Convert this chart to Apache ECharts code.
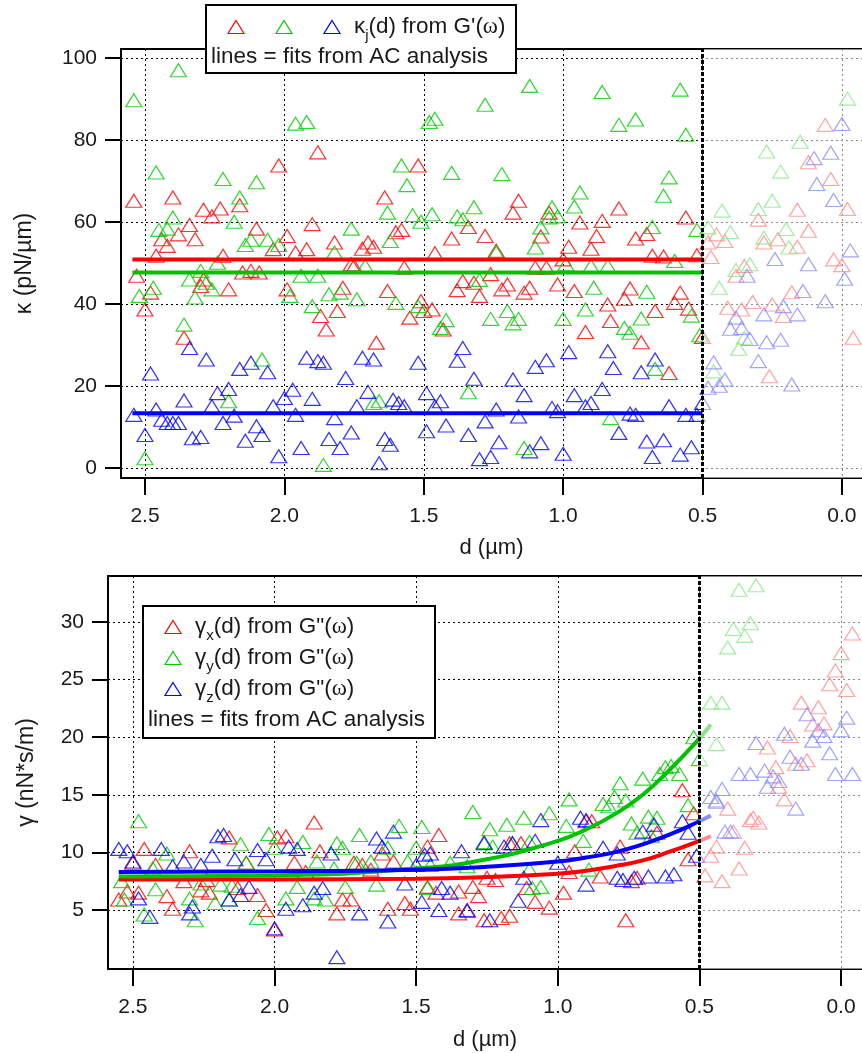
<!DOCTYPE html>
<html>
<head>
<meta charset="utf-8">
<script src="https://cdn.jsdelivr.net/npm/echarts@6/dist/echarts.min.js"></script>
<style>
  html, body { margin: 0; padding: 0; background: #fff; }
  #chart { width: 862px; height: 1053px; }
</style>
</head>
<body>
<div id="chart"></div>
<script>
// axis ticks
var dTicks = [2.5, 2.0, 1.5, 1.0, 0.5, 0.0];
var kappaTicks = [0, 20, 40, 60, 80, 100];
var gammaTicks = [5, 10, 15, 20, 25, 30];
var cutoff = 0.5;

// kappa (top), [d, kappa]
var kappaRed = [
  [2.54,65.2],[2.40,66.0],[2.46,51.8],[2.44,55.8],[2.42,54.2],[2.38,57.0],[2.34,59.3],[2.32,55.8],[2.29,63.0],
  [2.26,61.4],[2.23,63.3],[2.16,64.1],[2.10,58.4],[2.02,73.8],[1.99,56.6],[1.96,52.6],[1.92,53.4],[1.88,77.0],
  [1.90,59.5],[2.04,53.4],[1.82,55.0],[1.72,53.5],[1.70,55.0],[1.68,54.0],[1.64,66.0],[1.60,57.5],[1.58,58.1],
  [1.52,73.8],[2.22,51.8],[2.53,46.9],[2.50,38.7],[2.48,42.8],[2.36,31.8],[2.30,44.4],[2.29,46.0],[2.20,43.6],
  [2.15,47.7],[2.12,48.1],[2.09,47.7],[1.99,43.6],[1.87,37.1],[1.85,33.8],[1.81,38.3],[1.79,44.0],[1.76,49.7],
  [1.75,49.3],[1.67,30.6],[1.63,43.2],[1.55,36.7],[1.57,48.9],[1.51,40.7],[1.50,38.3],
  [1.16,65.2],[1.18,62.3],[0.80,63.3],[0.56,61.1],[0.94,59.9],[0.86,60.3],[1.34,58.8],[1.40,56.0],[1.28,56.6],
  [1.08,56.5],[1.05,62.3],[0.88,56.6],[0.90,53.5],[0.98,54.0],[0.74,56.0],[0.70,57.1],[1.24,53.0],[1.46,52.4],
  [1.38,43.4],[1.36,45.6],[1.32,45.2],[1.30,42.0],[1.26,47.3],[1.22,43.6],[1.20,44.8],[1.14,42.8],[1.12,44.0],
  [1.10,48.9],[1.06,48.9],[1.02,44.8],[0.96,43.2],[0.92,33.2],[0.84,39.9],[0.83,35.9],[0.78,41.3],[0.76,43.8],
  [0.72,30.7],[0.67,38.3],[0.60,40.3],[0.58,42.8],[0.55,38.9],[0.62,23.2],[0.50,32.0],[1.43,33.8],[1.47,38.7],
  [0.68,51.8],[0.64,51.6],[0.52,51.9],[1.00,50.9],
  [0.06,83.7],[0.12,74.6],[0.04,70.5],[0.16,63.0],[-0.02,63.2],[0.30,60.6],[0.12,57.9],[0.23,55.8],[0.45,57.0],
  [0.42,55.4],[0.28,55.0],[0.16,54.0],[0.47,51.5],[0.48,55.0],[0.38,46.9],[0.35,49.3],[0.03,50.9],[0.00,49.5],
  [0.41,39.1],[0.36,38.7],[0.32,40.5],[0.25,39.9],[0.21,37.1],[0.18,42.9],[-0.04,31.8],[0.26,22.4]
];
var kappaGreen = [
  [2.54,89.7],[2.38,97.0],[2.46,72.1],[2.22,70.5],[2.10,69.7],[1.96,84.0],[1.92,84.4],[2.16,66.0],[2.18,60.1],
  [2.40,61.1],[2.45,58.1],[2.42,58.4],[2.14,54.4],[2.12,55.7],[2.06,55.7],[2.02,54.4],[1.76,58.4],[1.82,52.6],
  [1.63,62.3],[1.58,73.8],[1.56,69.0],[1.54,61.7],[1.51,60.1],[1.48,84.4],[1.62,55.4],
  [2.52,42.0],[2.47,44.0],[2.36,35.0],[2.34,46.0],[2.32,41.6],[2.30,48.1],[2.28,45.2],[2.26,43.6],[2.24,50.1],
  [2.08,26.5],[2.20,16.3],[1.98,42.0],[1.94,46.9],[1.88,46.9],[1.90,39.5],[1.86,0.8],[1.84,42.4],[1.80,42.8],
  [1.74,41.2],[1.71,49.3],[1.68,15.9],[1.66,16.3],[1.60,40.3],[1.52,39.5],[2.50,2.4],
  [1.46,85.2],[1.28,88.6],[1.12,93.2],[0.86,91.7],[0.80,83.7],[0.74,85.0],[0.58,92.3],[0.56,81.3],[1.40,72.0],
  [1.22,71.7],[0.62,70.9],[0.64,66.4],[0.94,67.2],[0.96,63.8],[1.04,63.6],[1.32,63.6],[1.38,61.4],[1.36,60.7],
  [1.08,58.7],[1.05,61.1],[1.02,61.4],[0.68,58.8],[0.52,58.1],[1.10,53.8],[1.24,52.6],[1.47,61.9],
  [0.89,44.0],[0.92,38.7],[1.00,36.4],[1.26,36.4],[1.20,38.3],[1.18,35.3],[1.16,36.4],[1.42,36.1],[1.44,34.2],
  [1.30,45.9],[0.78,34.2],[0.76,33.0],[0.72,36.5],[0.70,43.0],[0.54,37.2],[0.51,32.4],[0.67,24.2],[1.34,18.5],
  [0.83,12.2],[1.14,4.9],[0.60,50.5],[0.90,49.3],[0.84,49.3],[0.99,49.7],
  [-0.02,90.1],[0.15,79.6],[0.27,77.2],[0.22,72.3],[0.25,65.2],[0.30,63.2],[0.43,62.8],[0.40,57.6],[0.48,58.7],
  [0.28,56.2],[0.20,58.3],[0.19,53.8],[0.38,48.3],[0.33,49.7],[0.44,44.0],[0.35,31.8],[0.37,29.1],[0.46,23.6]
];
var kappaBlue = [
  [2.54,13.0],[2.50,8.1],[2.48,23.1],[2.46,14.3],[2.44,11.8],[2.42,11.0],[2.40,11.0],[2.38,11.0],[2.36,16.5],
  [2.34,29.3],[2.33,7.3],[2.30,7.6],[2.28,26.5],[2.24,18.3],[2.26,15.1],[2.22,11.0],[2.20,19.3],[2.18,12.8],
  [2.16,24.2],[2.14,6.7],[2.12,25.7],[2.10,10.2],[2.08,8.1],[2.06,23.4],[2.04,15.1],[2.02,2.9],[2.00,17.1],
  [1.97,19.1],[1.96,13.0],[1.94,4.9],[1.92,26.9],[1.90,16.9],[1.88,26.1],[1.86,25.7],[1.84,7.1],[1.82,12.2],
  [1.80,4.9],[1.78,22.0],[1.76,8.7],[1.74,15.1],[1.72,26.9],[1.70,18.6],[1.68,26.5],[1.66,1.2],[1.64,7.1],
  [1.62,5.7],[1.61,16.7],[1.59,15.9],[1.57,15.1],[1.52,25.7],[1.49,9.0],[1.49,18.3],
  [1.36,29.3],[1.38,26.2],[1.32,21.8],[1.18,21.6],[1.14,17.8],[1.10,24.7],[1.06,26.3],[0.98,28.3],[0.96,17.8],
  [0.90,15.9],[0.86,19.3],[0.84,28.5],[0.82,24.4],[0.72,23.4],[0.67,26.5],[1.04,14.7],[1.02,13.9],[0.92,15.1],
  [1.24,14.3],[1.16,12.6],[1.28,11.4],[1.42,10.4],[1.34,8.1],[1.23,6.3],[1.12,4.1],[1.08,6.1],[1.30,2.2],
  [1.26,2.7],[1.00,3.5],[0.80,8.6],[0.76,13.3],[0.74,13.0],[0.70,6.5],[0.68,2.7],[0.64,6.8],[0.62,15.1],
  [0.58,3.3],[0.56,13.0],[0.54,5.1],[0.52,13.0],[0.50,15.9],[1.44,16.3],[1.46,15.1],
  [0.00,83.9],[0.04,76.9],[0.10,75.6],[0.09,69.3],[0.03,65.4],[-0.03,53.1],[0.24,51.0],[0.34,46.9],[0.12,49.7],
  [-0.01,46.2],[0.06,40.7],[0.14,43.2],[0.16,37.5],[0.28,37.5],[0.21,39.5],[0.38,36.7],[0.40,34.0],[0.36,34.2],
  [0.33,31.5],[0.27,30.7],[0.22,31.3],[0.30,26.1],[0.46,25.8],[0.42,21.6],[0.44,20.1],[0.18,20.4],[0.48,19.6]
];

// gamma (bottom), [d, gamma]
var gammaRed = [
  [1.86,12.6],[1.99,11.3],[1.96,11.4],[2.16,11.3],[2.46,10.3],[2.30,10.1],[1.84,10.1],[1.62,9.9],[2.50,9.1],
  [2.42,8.9],[2.52,6.6],[2.55,5.9],[2.48,6.5],[2.38,6.2],[2.36,5.1],[2.26,6.7],[2.23,6.5],[2.13,6.9],[2.06,6.3],
  [2.03,5.0],[2.00,3.3],[1.78,4.7],[1.76,5.9],[1.73,5.9],[1.60,5.1],[1.54,5.6],[1.52,5.1],[1.89,8.3],[1.93,9.1],
  [2.10,9.1],[1.72,9.1],[1.69,8.9],[1.66,8.5],[1.58,9.2],[2.32,7.5],[2.24,7.6],[1.46,10.5],[1.46,7.0],
  [1.42,11.5],[0.90,12.7],[0.88,12.7],[1.13,10.8],[0.94,10.1],[0.78,10.5],[0.65,11.7],[0.54,9.4],[0.52,13.4],
  [0.96,8.3],[0.85,7.9],[0.72,7.8],[0.74,7.5],[1.43,6.5],[1.35,6.6],[1.30,7.0],[1.28,6.2],[1.25,7.8],[1.22,7.6],
  [1.11,6.9],[1.08,5.7],[1.03,5.2],[0.98,6.5],[1.35,4.7],[1.32,4.9],[1.26,4.1],[1.20,4.3],[1.17,4.5],[0.76,4.1],
  [1.17,10.8],[0.56,15.4],
  [-0.04,29.0],[0.00,27.3],[0.02,25.8],[0.04,24.6],[-0.02,24.1],[0.14,23.0],[0.08,22.6],[0.10,21.1],[0.06,21.2],
  [0.18,20.1],[0.26,19.1],[0.23,17.4],[0.16,17.7],[0.12,18.0],[0.22,15.7],[0.20,14.6],[0.40,13.8],[0.31,13.0],
  [0.32,12.8],[0.29,12.6],[0.38,11.8],[0.34,10.4],[0.44,10.5],[0.46,9.7],[0.36,8.6],[0.42,7.5],[0.48,8.0]
];
var gammaGreen = [
  [2.48,12.7],[2.02,11.6],[1.90,10.9],[1.78,10.8],[1.70,11.5],[1.56,12.3],[1.48,12.2],[1.76,10.4],[2.12,10.7],
  [2.00,10.4],[2.54,7.5],[2.53,5.9],[2.46,4.6],[2.42,6.8],[2.30,6.0],[2.28,4.1],[2.21,5.6],[2.16,5.9],[2.06,4.3],
  [1.96,6.0],[1.86,6.0],[1.82,5.9],[1.75,7.0],[1.64,7.2],[2.43,8.6],[2.38,9.9],[2.26,7.3],[2.19,7.2],[2.15,7.1],
  [2.10,9.1],[1.92,7.0],[1.85,9.2],[1.79,8.6],[1.71,9.1],[1.66,9.2],[1.60,10.4],[1.53,9.2],[1.50,10.4],[1.46,6.9],
  [1.30,13.5],[1.24,12.0],[1.18,12.4],[1.12,13.0],[1.03,13.4],[0.97,12.3],[0.82,14.0],[0.74,12.5],[0.68,13.1],
  [0.65,13.0],[0.54,14.1],[1.26,10.9],[1.23,10.5],[1.16,10.8],[1.10,10.9],[0.91,11.0],[1.45,8.9],[1.38,9.1],
  [1.32,8.8],[1.10,8.5],[1.06,7.0],[1.09,6.9],[0.89,8.5],[0.84,14.2],[0.67,11.4],[0.72,11.7],[0.96,14.6],
  [0.78,16.0],[0.70,16.4],[0.80,14.8],[0.76,14.5],[0.64,16.8],[0.62,17.4],[0.60,17.5],[0.57,16.8],[0.52,20.0],
  [0.50,18.1],
  [0.36,32.8],[0.30,33.2],[0.38,29.4],[0.32,29.9],[0.34,28.8],[0.40,27.8],[0.46,23.0],[0.42,23.0],[0.44,19.4]
];
var gammaBlue = [
  [2.55,10.3],[2.52,10.1],[2.50,9.2],[2.40,10.3],[2.48,6.0],[2.44,4.4],[2.30,4.7],[2.29,5.3],[2.32,9.2],
  [2.26,8.9],[2.22,9.7],[2.20,11.4],[2.18,11.5],[2.16,5.9],[2.14,9.4],[2.12,6.3],[2.09,7.0],[2.06,10.2],
  [2.03,9.4],[2.00,3.4],[1.96,5.1],[1.95,10.5],[1.92,10.3],[1.90,5.4],[1.86,6.5],[1.83,6.9],[1.80,9.9],
  [1.78,0.9],[1.70,4.7],[1.64,11.2],[1.62,10.5],[1.60,4.0],[1.58,11.8],[1.54,7.3],[1.48,5.7],[1.47,9.8],
  [1.50,8.9],[2.36,8.8],
  [1.34,10.1],[1.26,10.8],[1.16,10.8],[1.08,11.0],[1.06,12.8],[0.92,13.0],[0.90,12.8],[0.84,10.4],[0.79,9.9],
  [0.70,11.8],[0.66,12.4],[0.56,12.7],[0.54,11.7],[0.51,9.7],[1.45,9.9],[1.41,6.9],[1.38,6.5],[1.42,5.0],
  [1.32,5.0],[1.24,4.1],[1.14,5.8],[1.12,7.8],[1.00,9.1],[0.90,7.2],[0.79,7.8],[0.77,7.6],[0.73,7.8],[0.68,7.9],
  [0.62,7.9],[0.59,8.1],[1.19,10.5],
  [0.12,22.0],[-0.02,21.7],[0.00,20.6],[0.20,20.3],[0.08,20.6],[0.10,19.7],[0.06,20.1],[0.30,19.5],[0.04,18.6],
  [0.18,18.3],[0.14,17.7],[0.02,16.8],[-0.04,16.8],[0.36,16.8],[0.32,16.8],[0.27,17.1],[0.24,16.6],[0.22,16.2],
  [0.42,15.5],[0.26,15.7],[0.46,14.8],[0.44,14.5],[0.16,13.8],[0.41,11.8],[0.39,11.8],[0.44,14.4]
];

// fits from AC analysis
var kappaFitRed = [[2.545, 50.9], [0.5, 50.9]];
var kappaFitGreen = [[2.545, 47.7], [0.5, 47.7]];
var kappaFitBlue = [[2.545, 13.4], [0.5, 13.4]];
var gammaFitRed = [[2.55,7.65],[2.0,7.65],[1.5,7.7],[1.25,7.85],[1.0,8.15],[0.9,8.4],[0.8,8.8],[0.7,9.3],[0.6,10.1],[0.5,11.0],[0.46,11.4]];
var gammaFitGreen = [[2.55,7.9],[2.0,8.0],[1.5,8.6],[1.25,9.4],[1.0,11.0],[0.9,12.0],[0.8,13.3],[0.7,15.0],[0.6,17.3],[0.5,19.9],[0.46,21.1]];
var gammaFitBlue = [[2.55,8.3],[2.0,8.35],[1.5,8.5],[1.25,8.75],[1.0,9.2],[0.9,9.55],[0.8,10.0],[0.7,10.7],[0.6,11.6],[0.5,12.7],[0.46,13.2]];

var FONT = '"Liberation Sans", Arial, sans-serif';
var RED = '#ff0000', GREEN = '#00cc00', BLUE = '#0000ff';
var TXT = '#1a1a1a';

var chart = echarts.init(document.getElementById('chart'));

// 散点（空心三角）
function scatter(idx, data, color) {
    return {
        type: 'scatter', xAxisIndex: idx * 2, yAxisIndex: idx, data: data,
        symbol: 'triangle', symbolSize: [16, 13], z: 2, silent: true,
        itemStyle: { color: 'rgba(0,0,0,0)', borderColor: color, borderWidth: 1.2 }
    };
}
function fit(idx, data, color) {
    return {
        type: 'line', xAxisIndex: idx * 2, yAxisIndex: idx, data: data, smooth: true,
        showSymbol: false, symbol: 'none', z: 3, silent: true,
        lineStyle: { color: color, width: 4 }
    };
}
// 0.5 右侧变淡 + 竖虚线
function veil(idx, min) {
    return {
        type: 'scatter', xAxisIndex: idx * 2, yAxisIndex: idx, data: [], z: 4, silent: true,
        markArea: { silent: true, z: 4, itemStyle: { color: 'rgba(255,255,255,0.55)' },
            data: [[{ xAxis: cutoff }, { xAxis: min }]] },
        markLine: { silent: true, z: 6, symbol: 'none', label: { show: false },
            lineStyle: { color: '#000', width: 3, type: [4, 2] }, data: [{ xAxis: cutoff }] }
    };
}
function xAxis(idx, min, max, gap) {
    return {
        gridIndex: idx, type: 'value', inverse: true, min: min, max: max,
        name: 'd (µm)', nameLocation: 'middle', nameGap: gap,
        nameTextStyle: { fontFamily: FONT, fontSize: 22, color: TXT },
        axisLine: { onZero: false, lineStyle: { color: '#000', width: 2 } },
        axisTick: { inside: false, length: 17, customValues: dTicks, lineStyle: { color: '#000', width: 2 } },
        axisLabel: { fontFamily: FONT, fontSize: 21, color: TXT, margin: 28, customValues: dTicks,
            formatter: function(v) { return v.toFixed(1); } },
        splitLine: { show: true, lineStyle: { color: '#000', width: 1, type: [2, 3] } }
    };
}
// 上边框
function topFrame(idx, min, max) {
    return {
        gridIndex: idx, type: 'value', position: 'top', inverse: true, min: min, max: max,
        axisLine: { show: true, onZero: false, lineStyle: { color: '#000', width: 2 } },
        axisTick: { show: false }, axisLabel: { show: false }, splitLine: { show: false }
    };
}
function yAxis(idx, min, max, ticks, name, gap) {
    return {
        gridIndex: idx, type: 'value', min: min, max: max,
        name: name, nameLocation: 'middle', nameGap: gap,
        nameTextStyle: { fontFamily: FONT, fontSize: 23, color: TXT },
        axisLine: { show: true, onZero: false, lineStyle: { color: '#000', width: 2 } },
        axisTick: { show: true, inside: false, length: 16, customValues: ticks, lineStyle: { color: '#000', width: 2 } },
        axisLabel: { fontFamily: FONT, fontSize: 21, color: TXT, margin: 24, customValues: ticks },
        splitLine: { show: true, lineStyle: { color: '#000', width: 1, type: [2, 3] } }
    };
}
function tri(cx, cy, color) {
    return {
        type: 'polygon', z: 101, silent: true,
        shape: { points: [[cx, cy - 6.5], [cx + 8, cy + 6.5], [cx - 8, cy + 6.5]] },
        style: { fill: 'none', stroke: color, lineWidth: 1.2 }
    };
}
var rich = {
    a: { fontFamily: FONT, fontSize: 22.5, fill: TXT, lineHeight: 26 },
    w: { fontFamily: '"Liberation Serif", serif', fontSize: 23, fill: TXT, lineHeight: 26 },
    s: { fontFamily: FONT, fontSize: 15, fill: TXT, lineHeight: 16, verticalAlign: 'bottom', padding: [0, 0, -3, 0] }
};
function label(x, y, text) {
    return {
        type: 'text', x: x, y: y, z: 101, silent: true,
        style: { text: text, rich: rich, fontFamily: FONT, fontSize: 22.5, fill: TXT, verticalAlign: 'middle', align: 'left' }
    };
}

var kMin = -0.072, kMax = 2.586;
var gMin = -0.074, gMax = 2.588;

var option = {
    animation: false,
    backgroundColor: '#fff',
    grid: [
        { left: 121, top: 49, right: 0, bottom: 575 },
        { left: 108, top: 576, right: 0, bottom: 84 }
    ],
    xAxis: [xAxis(0, kMin, kMax, 59), topFrame(0, kMin, kMax), xAxis(1, gMin, gMax, 60), topFrame(1, gMin, gMax)],
    yAxis: [
        yAxis(0, -2.4, 102.2, kappaTicks, 'κ (pN/µm)', 85),
        yAxis(1, -0.13, 34.0, gammaTicks, 'γ (nN*s/m)', 70)
    ],
    series: [
        scatter(0, kappaRed, RED), scatter(0, kappaGreen, GREEN), scatter(0, kappaBlue, BLUE),
        fit(0, kappaFitRed, RED), fit(0, kappaFitGreen, '#00c000'), fit(0, kappaFitBlue, BLUE),
        veil(0, kMin),
        scatter(1, gammaRed, RED), scatter(1, gammaGreen, GREEN), scatter(1, gammaBlue, BLUE),
        fit(1, gammaFitRed, RED), fit(1, gammaFitGreen, '#00c000'), fit(1, gammaFitBlue, BLUE),
        veil(1, gMin)
    ],
    graphic: [
        { type: 'rect', z: 100, silent: true, shape: { x: 206, y: 5, width: 310, height: 68 },
          style: { fill: '#fff', stroke: '#000', lineWidth: 2 } },
        tri(236, 27, RED), tri(284, 27, GREEN), tri(332, 27, BLUE),
        label(354, 27, '{a|κ}{s|j}{a|(d) from G\'(}{w|ω}{a|)}'),
        label(211, 57, 'lines = fits from AC analysis'),

        { type: 'rect', z: 100, silent: true, shape: { x: 143, y: 606, width: 292, height: 132 },
          style: { fill: '#fff', stroke: '#000', lineWidth: 2 } },
        tri(173, 627, RED), tri(173, 658, GREEN), tri(173, 689, BLUE),
        label(195, 627, '{a|γ}{s|x}{a|(d) from G"(}{w|ω}{a|)}'),
        label(195, 658, '{a|γ}{s|y}{a|(d) from G"(}{w|ω}{a|)}'),
        label(195, 689, '{a|γ}{s|z}{a|(d) from G"(}{w|ω}{a|)}'),
        label(148, 720, 'lines = fits from AC analysis')
    ]
};
chart.setOption(option);
</script>
</body>
</html>
